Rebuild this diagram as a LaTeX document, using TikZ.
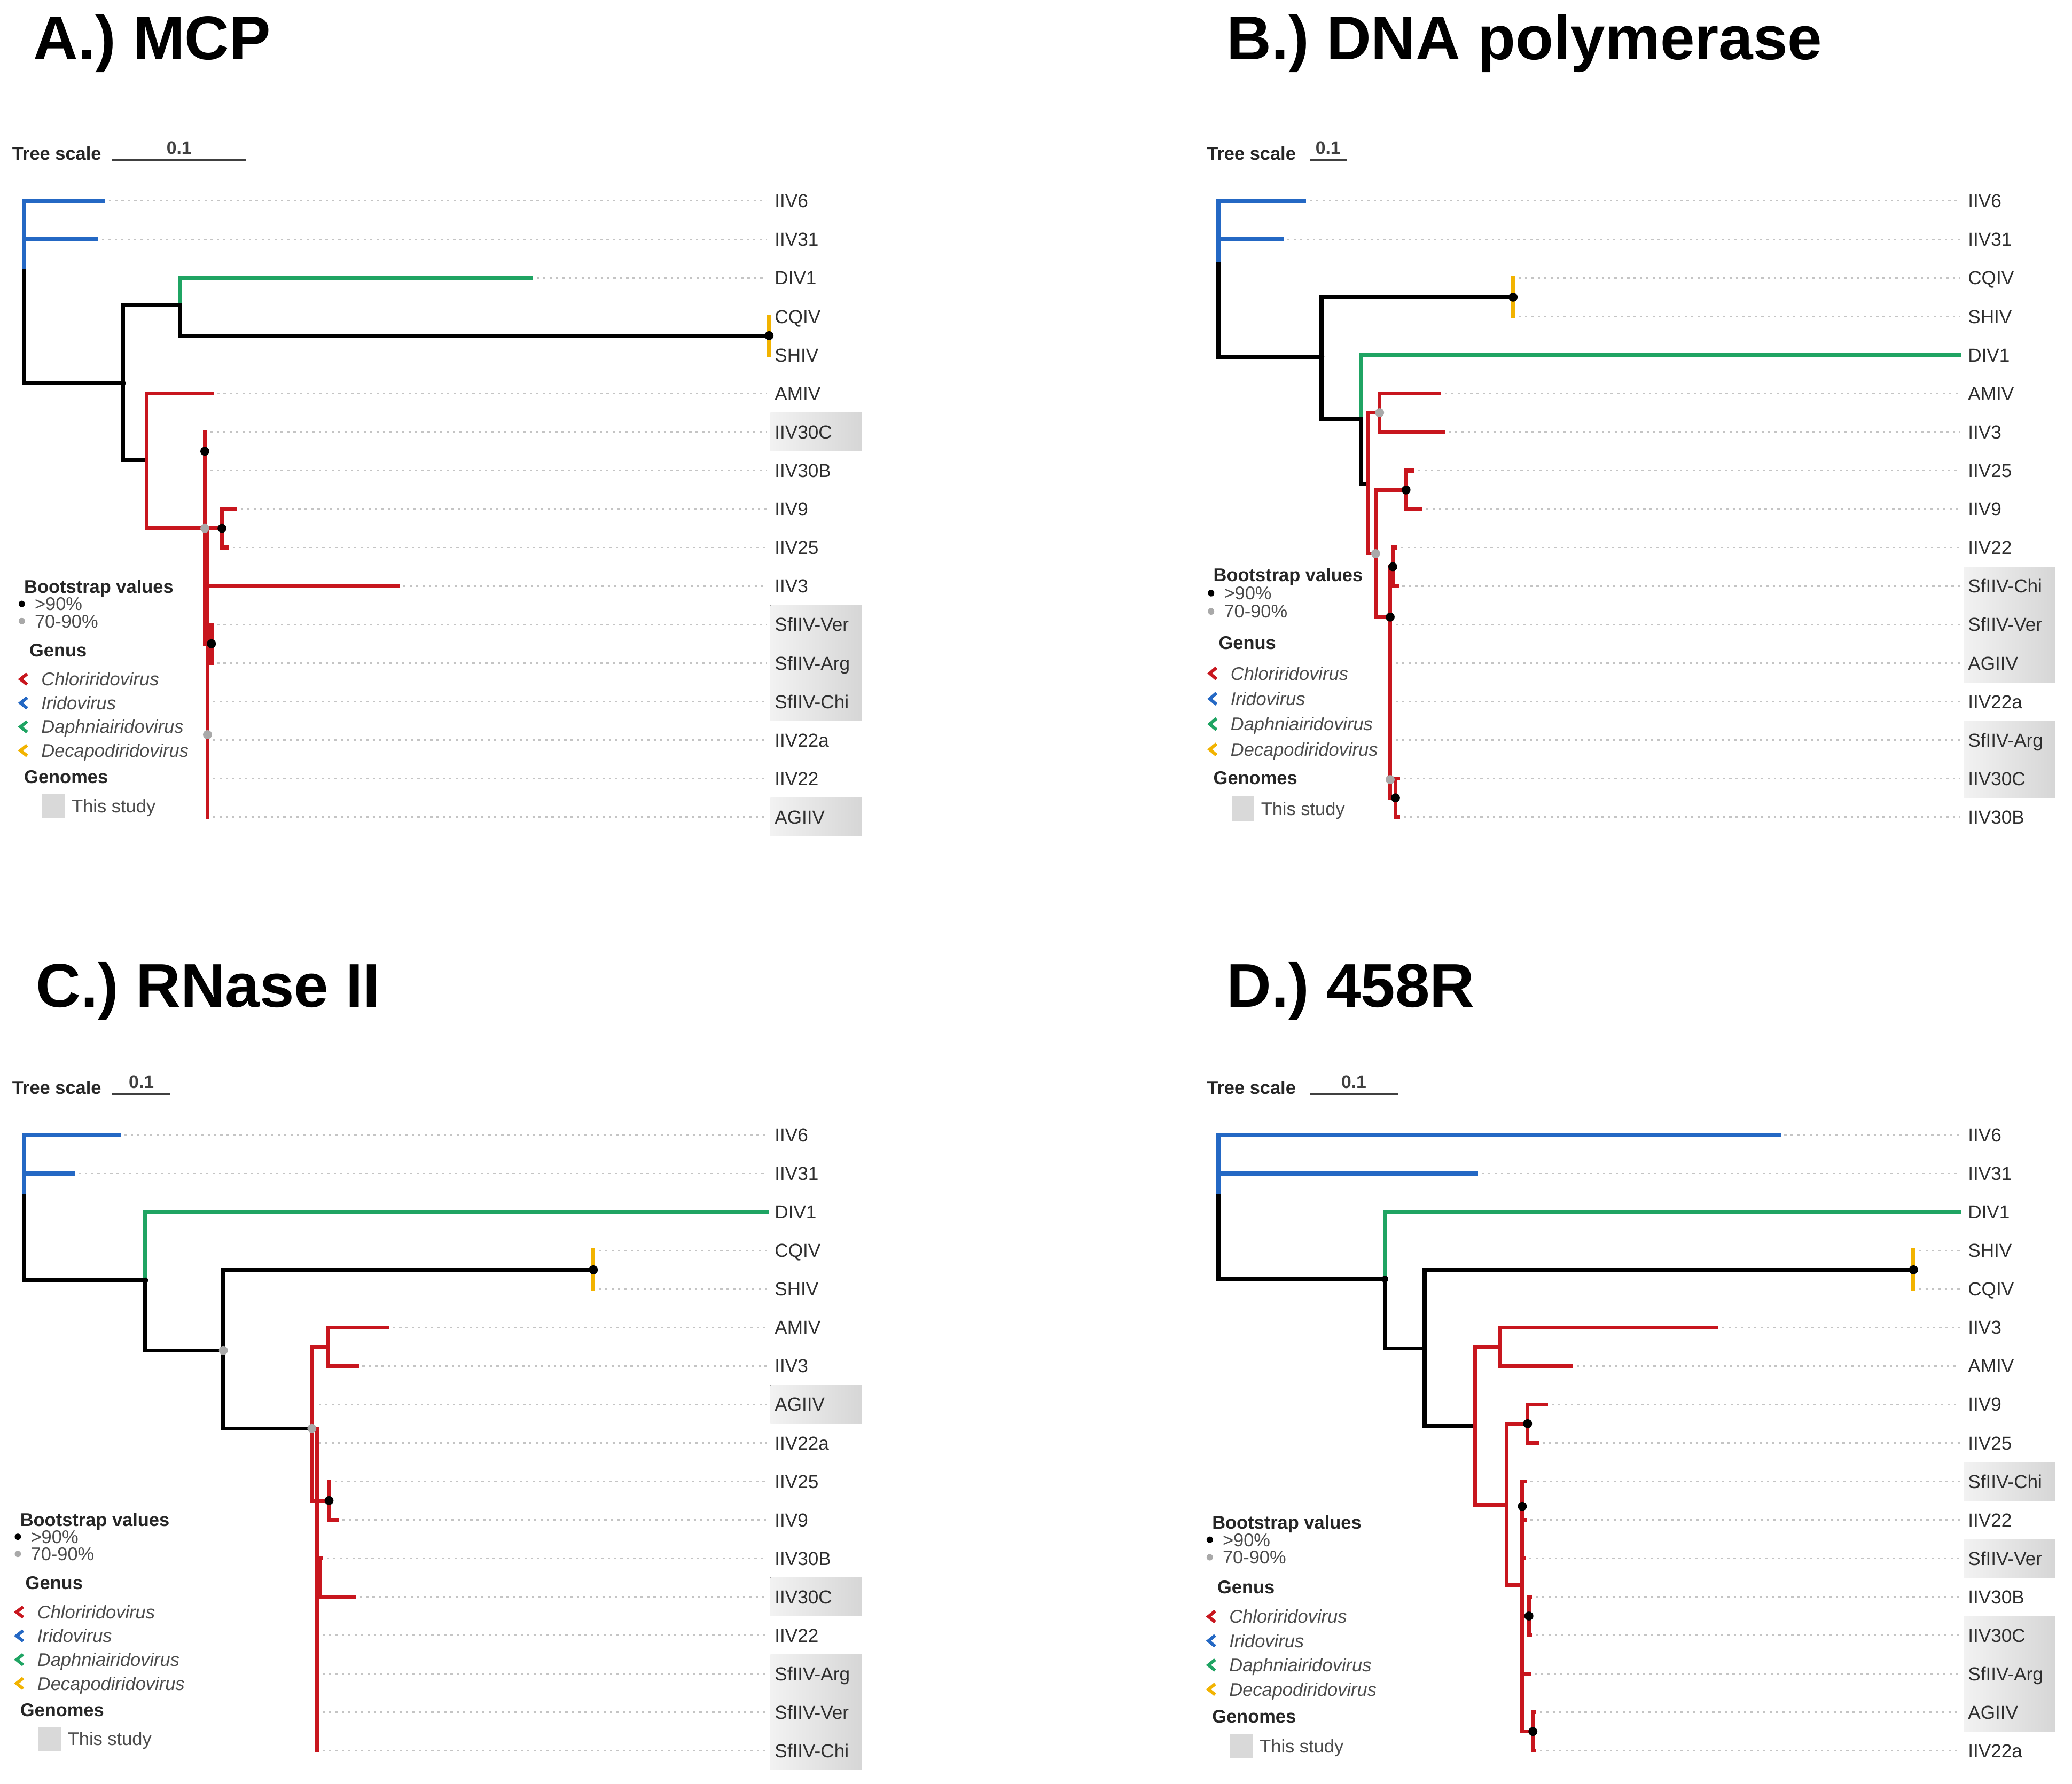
\documentclass[tikz,border=0pt]{standalone}
\usepackage{fontspec}
\setmainfont{Liberation Sans}
\usetikzlibrary{positioning}

\definecolor{chlred}{HTML}{C8161E}
\definecolor{iriblue}{HTML}{2468C4}
\definecolor{dapgreen}{HTML}{1FA463}
\definecolor{decyel}{HTML}{F2B300}
\definecolor{bsgray}{HTML}{A9A9A9}
\definecolor{leadgray}{HTML}{C4C4C4}
\definecolor{labgray}{HTML}{2E2E2E}

\tikzset{
  br/.style={line width=2.1pt, line cap=rect},
  stem/.style={br, draw=black},
  chl/.style={br, draw=chlred},
  iri/.style={br, draw=iriblue},
  dap/.style={br, draw=dapgreen},
  dec/.style={br, draw=decyel},
  lead/.style={draw=leadgray, line width=0.8pt, dash pattern=on 1.2pt off 2.2pt},
  leaf/.style={anchor=west, inner sep=0pt, text height=7.2pt, text depth=0pt, text=labgray, font=\fontsize{10}{12}\selectfont},
  paneltitle/.style={anchor=base west, inner sep=0pt, font=\fontsize{33}{38}\selectfont\bfseries},
  lghead/.style={anchor=west, inner sep=0pt, text height=7pt, text depth=0pt, text=black!85, font=\fontsize{9.8}{12}\selectfont\bfseries},
  lgtext/.style={anchor=west, inner sep=0pt, text height=7pt, text depth=0pt, text=black!70, font=\fontsize{9.8}{12}\selectfont},
  bsd/.style={fill=black},
  bsm/.style={fill=bsgray},
  studybg/.style={left color=black!5, right color=black!16},
}

% legend of one panel: prefix, x, y, stretch
\newcommand{\genuslegend}[4]{%
  \begin{scope}[shift={(#2,#3)}, yscale=#4]
    \node[lghead] (#1boot) at (0,0) {Bootstrap values};
    \fill[bsd] (-1.5,13) circle[radius=2.4];
    \node[lgtext] (#1hi) at (8,13) {>90\%};
    \fill[bsm] (-1.5,26) circle[radius=2.4];
    \node[lgtext] (#1mid) at (8,26) {70-90\%};
    \node[lghead] (#1genus) at (4,48) {Genus};
    \foreach \g/\c [count=\k from 0] in {Chloriridovirus/chlred, Iridovirus/iriblue, Daphniairidovirus/dapgreen, Decapodiridovirus/decyel}{
      \draw[draw=\c, line width=1.7pt] (2.5,{66+18*\k}) -- (-2.5,{70+18*\k}) -- (2.5,{74+18*\k});
      \node[lgtext, font=\fontsize{9.8}{12}\selectfont\itshape] (#1g\k) at (13,{70+18*\k}) {\g};
    }
    \node[lghead] (#1genomes) at (0,144) {Genomes};
    \fill[black!15] (14,157) rectangle (31,175);
    \node[lgtext] (#1study) at (36,166) {This study};
  \end{scope}}

% tree scale bar: prefix, x, y, bar start, bar end
\newcommand{\treescale}[5]{%
  \node[lghead] (#1ts) at (#2,#3) {Tree scale};
  \coordinate (#1sa) at (#4,{#3+5});
  \coordinate (#1sb) at (#5,{#3+5});
  \draw[line width=1.2pt, black!75] (#1sa) -- node[above=2.5pt, inner sep=0pt, font=\fontsize{9.6}{11}\selectfont\bfseries] (#1sl) {0.1} (#1sb);}

\begin{document}
\begin{tikzpicture}[x=0.02474cm, y=-0.02474cm]
  \path[use as bounding box, fill=white] (0,0) rectangle (1568,1350);

  % ---------- A.) MCP ----------
  \node[paneltitle] (titA) at (25,45) {A.) MCP};
  \treescale{a}{9}{116}{85}{186}
  \fill[studybg] (583,312.3) rectangle (652,341.5);
  \fill[studybg] (583,458.1) rectangle (652,545.5);
  \fill[studybg] (583,603.8) rectangle (652,633);
  \foreach \i/\nm/\lab/\tx in {0/aIIV6/IIV6/78, 1/aIIV31/IIV31/73, 2/aDIV1/DIV1/402, 3/aCQIV/CQIV/582, 4/aSHIV/SHIV/582,
      5/aAMIV/AMIV/160, 6/aIIV30C/IIV30C/155, 7/aIIV30B/IIV30B/155, 8/aIIV9/IIV9/178, 9/aIIV25/IIV25/172,
      10/aIIV3/IIV3/301, 11/aSfVer/SfIIV-Ver/160, 12/aSfArg/SfIIV-Arg/160, 13/aSfChi/SfIIV-Chi/157,
      14/aIIV22a/IIV22a/157, 15/aIIV22/IIV22/157, 16/aAGIIV/AGIIV/157}{
    \coordinate (t\nm) at (\tx,{152+29.15*\i});
    \node[leaf] (\nm) at (586,{152+29.15*\i}) {\lab};
    \ifdim\tx pt<560pt \draw[lead] ([xshift=3pt]t\nm) -- ([xshift=-4pt]\nm.west); \fi
  }
  \coordinate (aRb) at (18,205);
  \coordinate (aN1) at (93,290);
  \coordinate (aN2) at (136,231);
  \coordinate (aN3) at (582,254);
  \coordinate (aN4) at (111,348);
  \coordinate (aN5) at (155,399.8);
  \coordinate (aN6) at (168,399.8);
  \coordinate (aN7) at (155,341.5);
  \coordinate (aN9) at (160,487.2);
  \coordinate (aN10) at (157,556);
  \draw[iri] (taIIV6) -| (aRb);
  \draw[iri] (aRb) |- (taIIV31);
  \draw[stem] (aRb) |- (aN1);
  \draw[stem] (aN1) |- (aN2);
  \draw[stem] (aN1) |- (aN4);
  \draw[dap] (aN2) |- (taDIV1);
  \draw[stem] (aN2) |- (aN3);
  \draw[dec] (taCQIV) -- (taSHIV);
  \draw[chl] (aN4) |- (taAMIV);
  \draw[chl] (aN4) |- (aN5);
  \draw[chl] (aN5) |- (taIIV30C);
  \draw[chl] (aN5) -- (aN6);
  \draw[chl] (aN6) |- (taIIV9);
  \draw[chl] (aN6) |- (taIIV25);
  \draw[chl] (aN5) |- (taIIV3);
  \draw[chl] (aN5) |- (aN9);
  \draw[chl] (taSfVer) -- (taSfArg);
  \draw[chl] (aN5) -| (taAGIIV);
  \fill[bsd] (aN1) circle[radius=2.2];
  \fill[bsd] (aN3) circle[radius=3.4];
  \fill[bsd] (aN7) circle[radius=3.4];
  \fill[bsm] (aN5) circle[radius=3.4];
  \fill[bsd] (aN6) circle[radius=3.4];
  \fill[bsd] (aN9) circle[radius=3.4];
  \fill[bsm] (aN10) circle[radius=3.4];
  \genuslegend{a}{18}{444}{1}

  % ---------- B.) DNA polymerase ----------
  \node[paneltitle] (titB) at (928,45) {B.) DNA polymerase};
  \treescale{b}{913}{116}{991}{1019}
  \fill[studybg] (1486,428.9) rectangle (1555,516.4);
  \fill[studybg] (1486,545.5) rectangle (1555,603.8);
  \foreach \i/\nm/\lab/\tx in {0/bIIV6/IIV6/987, 1/bIIV31/IIV31/970, 2/bCQIV/CQIV/1145, 3/bSHIV/SHIV/1145, 4/bDIV1/DIV1/1483,
      5/bAMIV/AMIV/1089, 6/bIIV3/IIV3/1092, 7/bIIV25/IIV25/1069, 8/bIIV9/IIV9/1075, 9/bIIV22/IIV22/1056,
      10/bSfChi/SfIIV-Chi/1057, 11/bSfVer/SfIIV-Ver/1052, 12/bAGIIV/AGIIV/1052, 13/bIIV22a/IIV22a/1052,
      14/bSfArg/SfIIV-Arg/1052, 15/bIIV30C/IIV30C/1058, 16/bIIV30B/IIV30B/1058}{
    \coordinate (t\nm) at (\tx,{152+29.15*\i});
    \node[leaf] (\nm) at (1489,{152+29.15*\i}) {\lab};
    \ifdim\tx pt<1460pt \draw[lead] ([xshift=3pt]t\nm) -- ([xshift=-4pt]\nm.west); \fi
  }
  \coordinate (bRb) at (922,200);
  \coordinate (bN1) at (1000,270);
  \coordinate (bN2) at (1145,224.9);
  \coordinate (bN3) at (1030,317);
  \coordinate (bN3b) at (1030,366);
  \coordinate (bN4) at (1035,366);
  \coordinate (bN5) at (1044,312.3);
  \coordinate (bN6) at (1041,419);
  \coordinate (bN7) at (1064,370.8);
  \coordinate (bN8) at (1052,467);
  \coordinate (bN9) at (1054,428.9);
  \coordinate (bN10) at (1052,590);
  \coordinate (bN11) at (1056,603.8);
  \draw[iri] (tbIIV6) -| (bRb);
  \draw[iri] (bRb) |- (tbIIV31);
  \draw[stem] (bRb) |- (bN1);
  \draw[stem] (bN1) |- (bN2);
  \draw[stem] (bN1) |- (bN3);
  \draw[dec] (tbCQIV) -- (tbSHIV);
  \draw[dap] (bN3) |- (tbDIV1);
  \draw[stem] (bN3) -- (bN3b) -- (bN4);
  \draw[chl] (bN4) |- (bN5);
  \draw[chl] (bN4) |- (bN6);
  \draw[chl] (bN5) |- (tbAMIV);
  \draw[chl] (bN5) |- (tbIIV3);
  \draw[chl] (bN6) |- (bN7);
  \draw[chl] (bN6) |- (bN8);
  \draw[chl] (bN7) |- (tbIIV25);
  \draw[chl] (bN7) |- (tbIIV9);
  \draw[chl] (bN8) |- (bN9);
  \draw[chl] (bN9) |- (tbIIV22);
  \draw[chl] (bN9) |- (tbSfChi);
  \draw[chl] (bN8) -- (bN10) |- (bN11);
  \draw[chl] (bN11) |- (tbIIV30C);
  \draw[chl] (bN11) |- (tbIIV30B);
  \fill[bsd] (bN1) circle[radius=2.2];
  \fill[bsd] (bN2) circle[radius=3.4];
  \fill[bsm] (bN5) circle[radius=3.4];
  \fill[bsm] (bN6) circle[radius=3.4];
  \fill[bsd] (bN7) circle[radius=3.4];
  \fill[bsd] (bN8) circle[radius=3.4];
  \fill[bsd] (bN9) circle[radius=3.4];
  \fill[bsm] (bN10) circle[radius=3.4];
  \fill[bsd] (bN11) circle[radius=3.4];
  \genuslegend{b}{918}{435}{1.066}

  % ---------- C.) RNase II ----------
  \node[paneltitle] (titC) at (27,762) {C.) RNase II};
  \treescale{c}{9}{823}{85}{129}
  \fill[studybg] (583,1048.2) rectangle (652,1077.4);
  \fill[studybg] (583,1193.8) rectangle (652,1223);
  \fill[studybg] (583,1252.1) rectangle (652,1339.5);
  \foreach \i/\nm/\lab/\tx in {0/cIIV6/IIV6/90, 1/cIIV31/IIV31/55, 2/cDIV1/DIV1/580, 3/cCQIV/CQIV/449, 4/cSHIV/SHIV/449,
      5/cAMIV/AMIV/293, 6/cIIV3/IIV3/270, 7/cAGIIV/AGIIV/237, 8/cIIV22a/IIV22a/237, 9/cIIV25/IIV25/249,
      10/cIIV9/IIV9/255, 11/cIIV30B/IIV30B/243, 12/cIIV30C/IIV30C/268, 13/cIIV22/IIV22/240,
      14/cSfArg/SfIIV-Arg/240, 15/cSfVer/SfIIV-Ver/240, 16/cSfChi/SfIIV-Chi/240}{
    \coordinate (t\nm) at (\tx,{859+29.12*\i});
    \node[leaf] (\nm) at (586,{859+29.12*\i}) {\lab};
    \ifdim\tx pt<560pt \draw[lead] ([xshift=3pt]t\nm) -- ([xshift=-4pt]\nm.west); \fi
  }
  \coordinate (cRb) at (18,905);
  \coordinate (cN1) at (110,969);
  \coordinate (cN2) at (169,1022);
  \coordinate (cN3) at (449,961);
  \coordinate (cN4) at (236,1081);
  \coordinate (cN5) at (248,1019.2);
  \coordinate (cN6) at (249,1135.6);
  \coordinate (cN7) at (242,1193.9);
  \draw[iri] (tcIIV6) -| (cRb);
  \draw[iri] (cRb) |- (tcIIV31);
  \draw[stem] (cRb) |- (cN1);
  \draw[dap] (cN1) |- (tcDIV1);
  \draw[stem] (cN1) |- (cN2);
  \draw[stem] (cN2) |- (cN3);
  \draw[stem] (cN2) |- (cN4);
  \draw[dec] (tcCQIV) -- (tcSHIV);
  \draw[chl] (cN4) |- (cN5);
  \draw[chl] (cN4) |- (cN6);
  \draw[chl] (cN5) |- (tcAMIV);
  \draw[chl] (cN5) |- (tcIIV3);
  \draw[chl] (cN6) |- (tcIIV25);
  \draw[chl] (cN6) |- (tcIIV9);
  \draw[chl] (cN4) -| (tcSfChi);
  \draw[chl] (cN7) |- (tcIIV30B);
  \draw[chl] (cN7) |- (tcIIV30C);
  \fill[bsd] (cN1) circle[radius=2.2];
  \fill[bsm] (cN2) circle[radius=3.4];
  \fill[bsd] (cN3) circle[radius=3.4];
  \fill[bsm] (cN4) circle[radius=3.4];
  \fill[bsd] (cN6) circle[radius=3.4];
  \genuslegend{c}{15}{1150}{1}

  % ---------- D.) 458R ----------
  \node[paneltitle] (titD) at (928,762) {D.) 458R};
  \treescale{d}{913}{823}{991}{1058}
  \fill[studybg] (1486,1106.5) rectangle (1555,1135.7);
  \fill[studybg] (1486,1164.7) rectangle (1555,1193.9);
  \fill[studybg] (1486,1223) rectangle (1555,1310.4);
  \foreach \i/\nm/\lab/\tx in {0/dIIV6/IIV6/1346, 1/dIIV31/IIV31/1117, 2/dDIV1/DIV1/1483, 3/dSHIV/SHIV/1448, 4/dCQIV/CQIV/1448,
      5/dIIV3/IIV3/1299, 6/dAMIV/AMIV/1189, 7/dIIV9/IIV9/1170, 8/dIIV25/IIV25/1163, 9/dSfChi/SfIIV-Chi/1154,
      10/dIIV22/IIV22/1154, 11/dSfVer/SfIIV-Ver/1153, 12/dIIV30B/IIV30B/1158, 13/dIIV30C/IIV30C/1158,
      14/dSfArg/SfIIV-Arg/1157, 15/dAGIIV/AGIIV/1161, 16/dIIV22a/IIV22a/1161}{
    \coordinate (t\nm) at (\tx,{859+29.12*\i});
    \node[leaf] (\nm) at (1489,{859+29.12*\i}) {\lab};
    \ifdim\tx pt<1460pt \draw[lead] ([xshift=3pt]t\nm) -- ([xshift=-4pt]\nm.west); \fi
  }
  \coordinate (dRb) at (922,905);
  \coordinate (dN1) at (1048,968);
  \coordinate (dN2) at (1078,1020.5);
  \coordinate (dN3) at (1448,961);
  \coordinate (dN4) at (1116,1079);
  \coordinate (dN5) at (1135,1019.2);
  \coordinate (dN6) at (1140,1139);
  \coordinate (dN7) at (1156,1077.4);
  \coordinate (dN8) at (1152,1199.5);
  \coordinate (dN9) at (1152,1140);
  \coordinate (dN10) at (1157,1223);
  \coordinate (dN11) at (1160,1310.4);
  \draw[iri] (tdIIV6) -| (dRb);
  \draw[iri] (dRb) |- (tdIIV31);
  \draw[stem] (dRb) |- (dN1);
  \draw[dap] (dN1) |- (tdDIV1);
  \draw[stem] (dN1) |- (dN2);
  \draw[stem] (dN2) |- (dN3);
  \draw[stem] (dN2) |- (dN4);
  \draw[dec] (tdSHIV) -- (tdCQIV);
  \draw[chl] (dN4) |- (dN5);
  \draw[chl] (dN4) |- (dN6);
  \draw[chl] (dN5) |- (tdIIV3);
  \draw[chl] (dN5) |- (tdAMIV);
  \draw[chl] (dN6) |- (dN7);
  \draw[chl] (dN6) |- (dN8);
  \draw[chl] (dN7) |- (tdIIV9);
  \draw[chl] (dN7) |- (tdIIV25);
  \draw[chl] (dN8) -- (dN9);
  \draw[chl] (dN9) |- (tdSfChi);
  \draw[chl] (dN9) |- (tdIIV22);
  \draw[chl] (dN8) |- (tdSfVer);
  \draw[chl] (dN8) |- (dN10);
  \draw[chl] (dN10) |- (tdIIV30B);
  \draw[chl] (dN10) |- (tdIIV30C);
  \draw[chl] (dN8) |- (tdSfArg);
  \draw[chl] (dN8) |- (dN11);
  \draw[chl] (dN11) |- (tdAGIIV);
  \draw[chl] (dN11) |- (tdIIV22a);
  \fill[bsd] (dN1) circle[radius=2.6];
  \fill[bsd] (dN3) circle[radius=3.4];
  \fill[bsd] (dN7) circle[radius=3.4];
  \fill[bsd] (dN9) circle[radius=3.4];
  \fill[bsd] (dN10) circle[radius=3.4];
  \fill[bsd] (dN11) circle[radius=3.4];
  \genuslegend{d}{917}{1152}{1.02}
\end{tikzpicture}
\end{document}
